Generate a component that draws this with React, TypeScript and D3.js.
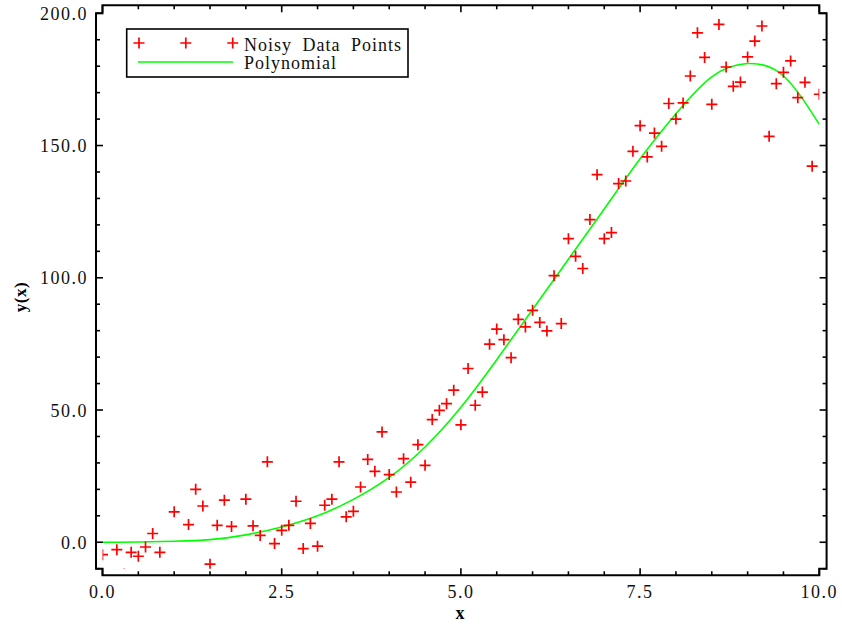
import React, { useRef, useEffect } from "react";
import * as d3 from "d3";

// noisy samples (x, y)
const pointX = [
  0, 0.2, 0.3, 0.4, 0.5, 0.6, 0.7, 0.8, 1.0, 1.2, 1.3, 1.4, 1.5, 1.6, 1.7, 1.8,
  2.0, 2.1, 2.2, 2.3, 2.4, 2.5, 2.6, 2.7, 2.8, 2.9, 3.0, 3.1, 3.2, 3.3, 3.4, 3.5,
  3.6, 3.7, 3.8, 3.9, 4.0, 4.1, 4.2, 4.3, 4.4, 4.5, 4.6, 4.7, 4.8, 4.9, 5.0, 5.1,
  5.2, 5.3, 5.4, 5.5, 5.6, 5.7, 5.8, 5.9, 6.0, 6.1, 6.2, 6.3, 6.4, 6.5, 6.6, 6.7,
  6.8, 6.9, 7.0, 7.1, 7.2, 7.3, 7.4, 7.5, 7.6, 7.7, 7.8, 7.9, 8.0, 8.1, 8.2, 8.3,
  8.4, 8.5, 8.6, 8.7, 8.8, 8.9, 9.0, 9.1, 9.2, 9.3, 9.4, 9.5, 9.6, 9.7, 9.8, 9.9,
  10.0,
];
const pointY = [
  -4.7, -2.8, -12, -3.8, -5.3, -1.8, 3.3, -3.8, 11.5, 6.7, 20, 13.7, -8.3, 6.4, 15.9, 6,
  16.3, 6.2, 2.6, 30.4, -0.5, 4.5, 6.4, 15.5, -2.4, 7.1, -1.5, 14, 16.3, 30.4, 9.6, 11.7,
  20.9, 31.3, 26.8, 41.7, 25.6, 19, 31.6, 22.7, 36.9, 29.1, 46.4, 49.9, 52.4, 57.5, 44.4, 65.7,
  51.8, 56.8, 74.9, 80.6, 76.6, 69.8, 84.3, 81.4, 87.7, 83.1, 79.9, 100.8, 82.7, 114.8, 108.1, 103.5,
  122, 139, 114.8, 117.1, 135.6, 136.6, 147.8, 157.5, 145.7, 154.7, 149.7, 165.9, 160, 166.1, 176.3, 192.6,
  183.3, 165.6, 195.8, 179.7, 172.4, 174, 183.5, 189.5, 195.2, 153.5, 173.4, 177.7, 182, 168.1, 173.9, 142.2,
  169.4,
];

// fitted polynomial, sampled every 0.5
const curveX = [0, 0.5, 1, 1.5, 2, 2.5, 3, 3.5, 4, 4.5, 5, 5.5, 6, 6.5, 7, 7.5, 8, 8.5, 9, 9.5, 10];
const curveY = [0, 0.1, 0.4, 1.0, 2.8, 5.8, 10, 16.2, 24.5, 36, 51, 69, 88, 107, 126, 145, 162, 176, 181, 176.3, 158];

const xMajor = [0, 2.5, 5, 7.5, 10];
const yMajor = [0, 50, 100, 150, 200];
const legendLabels = ["Noisy Data Points", "Polynomial"];

const W = 842;
const H = 626;

const App = () => {
  const svgRef = useRef<SVGSVGElement>(null);

  useEffect(() => {
    const svg = d3.select(svgRef.current);
    svg.selectAll("*").remove();

    const font = "'Liberation Serif', 'Times New Roman', serif";

    const x = d3.scaleLinear().domain([0, 10]).range([102.5, 819.3]);
    const y = d3.scaleLinear().domain([-10, 200]).range([568.7, 13.3]);

    const [x0, x1] = x.range();
    const [y1, y0] = y.range();
    const offL = 6.5, offR = 7.3, offT = 8, offB = 6.6;

    // clip for the data
    svg.append("defs")
      .append("clipPath")
      .attr("id", "plot-clip")
      .append("rect")
      .attr("x", x0)
      .attr("y", y0)
      .attr("width", x1 - x0)
      .attr("height", y1 - y0);

    // --- frame with offset axes (stepped corners) ---
    const frame = d3.path();
    frame.moveTo(x0 - offL, y1);
    frame.lineTo(x0 - offL, y0);
    frame.lineTo(x0, y0);
    frame.lineTo(x0, y0 - offT);
    frame.lineTo(x1, y0 - offT);
    frame.lineTo(x1, y0);
    frame.lineTo(x1 + offR, y0);
    frame.lineTo(x1 + offR, y1);
    frame.lineTo(x1, y1);
    frame.lineTo(x1, y1 + offB);
    frame.lineTo(x0, y1 + offB);
    frame.lineTo(x0, y1);
    frame.closePath();

    svg.append("path")
      .attr("d", frame.toString())
      .attr("fill", "none")
      .attr("stroke", "#000")
      .attr("stroke-width", 2);

    // --- ticks ---
    const ticks = svg.append("g").attr("stroke", "#000").attr("stroke-width", 1.6);
    const xMinor = d3.range(0, 10.001, 0.5);
    const yMinor = d3.range(-10, 200.001, 10);
    const majLen = 7;
    const minLen = 4;

    xMinor.forEach((v) => {
      const len = xMajor.some((m) => Math.abs(m - v) < 1e-6) ? majLen : minLen;
      ticks.append("line")
        .attr("x1", x(v)).attr("x2", x(v))
        .attr("y1", y1 + offB).attr("y2", y1 + offB - len);
      ticks.append("line")
        .attr("x1", x(v)).attr("x2", x(v))
        .attr("y1", y0 - offT).attr("y2", y0 - offT + len);
    });

    yMinor.forEach((v) => {
      const len = yMajor.some((m) => Math.abs(m - v) < 1e-6) ? majLen : minLen;
      ticks.append("line")
        .attr("x1", x0 - offL).attr("x2", x0 - offL + len)
        .attr("y1", y(v)).attr("y2", y(v));
      ticks.append("line")
        .attr("x1", x1 + offR).attr("x2", x1 + offR - len)
        .attr("y1", y(v)).attr("y2", y(v));
    });

    // --- tick labels ---
    svg.append("g")
      .selectAll("text")
      .data(xMajor)
      .join("text")
      .attr("x", (d) => x(d))
      .attr("y", 598)
      .attr("text-anchor", "middle")
      .style("font-family", font)
      .style("font-size", "18px")
      .style("letter-spacing", "1.5px")
      .attr("fill", "#111")
      .text((d) => d.toFixed(1));

    svg.append("g")
      .selectAll("text")
      .data(yMajor)
      .join("text")
      .attr("x", 88)
      .attr("y", (d) => y(d) + 6.5)
      .attr("text-anchor", "end")
      .style("font-family", font)
      .style("font-size", "18px")
      .style("letter-spacing", "1.5px")
      .attr("fill", "#111")
      .text((d) => d.toFixed(1));

    // axis titles
    svg.append("text")
      .attr("x", 460)
      .attr("y", 619)
      .attr("text-anchor", "middle")
      .style("font-family", font)
      .style("font-size", "18px")
      .style("font-weight", "bold")
      .text("x");

    svg.append("text")
      .attr("transform", `translate(26,297) rotate(-90)`)
      .attr("text-anchor", "middle")
      .style("font-family", font)
      .style("font-size", "17px")
      .style("font-weight", "bold")
      .style("letter-spacing", "0.5px")
      .text("y(x)");

    // --- data ---
    const plot = svg.append("g").attr("clip-path", "url(#plot-clip)");

    const line = d3.line<number>()
      .x((d, i) => x(curveX[i]))
      .y((d) => y(d))
      .curve(d3.curveNatural);

    plot.append("path")
      .datum(curveY)
      .attr("fill", "none")
      .attr("stroke", "#00ff00")
      .attr("stroke-width", 1.6)
      .attr("d", line);

    const plus = (g: any, cx: number, cy: number) => {
      const s = 5.5;
      g.append("path")
        .attr("d", `M${cx - s},${cy}H${cx + s}M${cx},${cy - s}V${cy + s}`)
        .attr("stroke", "#ff0000")
        .attr("stroke-width", 1.7)
        .attr("fill", "none");
    };

    pointY.forEach((v, i) => plus(plot, x(pointX[i]), y(v)));

    // --- legend ---
    const legend = svg.append("g");
    legend.append("rect")
      .attr("x", 126.7)
      .attr("y", 29)
      .attr("width", 281.3)
      .attr("height", 48)
      .attr("fill", "#fff")
      .attr("stroke", "#000")
      .attr("stroke-width", 1.6);

    [139, 185.8, 232.7].forEach((cx) => plus(legend, cx, 43));

    legend.append("line")
      .attr("x1", 138).attr("x2", 233)
      .attr("y1", 62).attr("y2", 62)
      .attr("stroke", "#00ff00")
      .attr("stroke-width", 1.6);

    legend.selectAll("text")
      .data(legendLabels)
      .join("text")
      .attr("x", 244)
      .attr("y", (d, i) => (i === 0 ? 50.5 : 69))
      .style("font-family", font)
      .style("font-size", "18px")
      .style("letter-spacing", "1px")
      .style("word-spacing", "5px")
      .attr("fill", "#111")
      .text((d) => d);
  }, []);

  return (
    <svg
      ref={svgRef}
      width={W}
      height={H}
      viewBox={`0 0 ${W} ${H}`}
      style={{ position: "absolute", left: 0, top: 0, background: "#fff", display: "block" }}
    />
  );
};

export default App;
